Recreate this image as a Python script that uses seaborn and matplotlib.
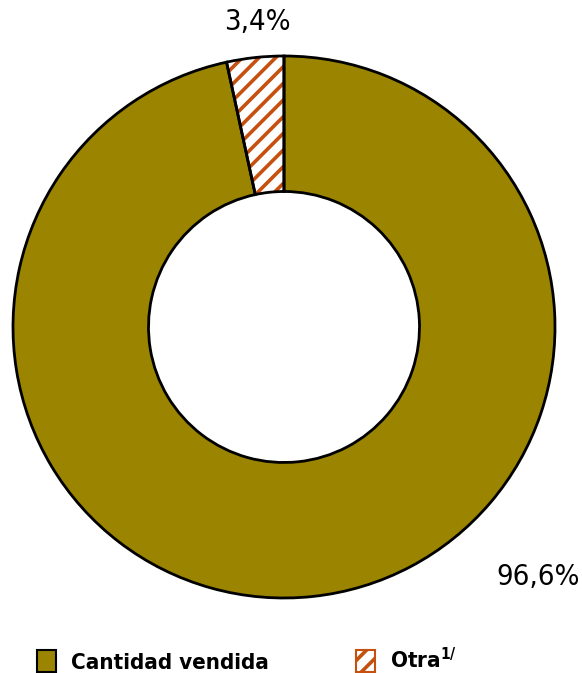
import matplotlib
matplotlib.use("Agg")
import matplotlib.pyplot as plt
import seaborn as sns
from matplotlib.patches import Patch

categories = ["Otra", "Cantidad vendida"]
shares = [3.4, 96.6]
pct_labels = ["3,4%", "96,6%"]
legend_labels = ["Cantidad vendida", r"Otra$^{\mathbf{1/}}$"]

OLIVE = "#9A8400"
ORANGE = "#C5500F"

sns.set_theme(style="white")
plt.rcParams["font.family"] = ["DejaVu Sans"]
plt.rcParams["font.stretch"] = "condensed"
plt.rcParams["text.color"] = "black"
plt.rcParams["mathtext.fontset"] = "custom"
plt.rcParams["mathtext.bf"] = "DejaVu Sans:bold"
plt.rcParams["mathtext.rm"] = "DejaVu Sans"
plt.rcParams["hatch.linewidth"] = 2.6

W, H = 582, 673
fig = plt.figure(figsize=(W / 100, H / 100), dpi=100)
# pie centre ~ (284, 327) px, radius ~ 271 px
cx, cy, r = 284, 327, 271
ax = fig.add_axes([(cx - r) / W, (H - cy - r) / H, 2 * r / W, 2 * r / H])

# fill layer (hatch drawn with orange edge colour)
wedges, _ = ax.pie(shares, startangle=90, counterclock=True, radius=1,
                   colors=["white", OLIVE],
                   wedgeprops=dict(width=0.5, linewidth=0))
wedges[0].set_hatch("//")
wedges[0].set_edgecolor(ORANGE)
wedges[0].set_linewidth(0)

# outline layer
outl, _ = ax.pie(shares, startangle=90, counterclock=True, radius=1,
                 wedgeprops=dict(width=0.5, fill=False, edgecolor="black",
                                 linewidth=2))
for w in list(wedges) + list(outl):
    w.set_clip_on(False)

ax.set_xlim(-1, 1)
ax.set_ylim(-1, 1)
ax.set_aspect("equal")
ax.axis("off")

fig.text(257 / W, 1 - 22 / H, pct_labels[0], ha="center", va="center",
         fontsize=21)
fig.text(580 / W, 1 - 577 / H, pct_labels[1], ha="right", va="center",
         fontsize=21)

handles = [Patch(facecolor=OLIVE, edgecolor="black", linewidth=1.5),
           Patch(facecolor="white", edgecolor=ORANGE, hatch="//", linewidth=1.5)]
leg = fig.legend(handles, legend_labels, loc="center left",
                 bbox_to_anchor=(37 / W, 1 - 660 / H), ncol=2, frameon=False,
                 prop=dict(weight="bold", size=16, stretch="condensed"),
                 handlelength=0.85, handleheight=1.1, handletextpad=0.7,
                 columnspacing=3.9, borderpad=0, borderaxespad=0)

fig.savefig("out.png", dpi=100)
